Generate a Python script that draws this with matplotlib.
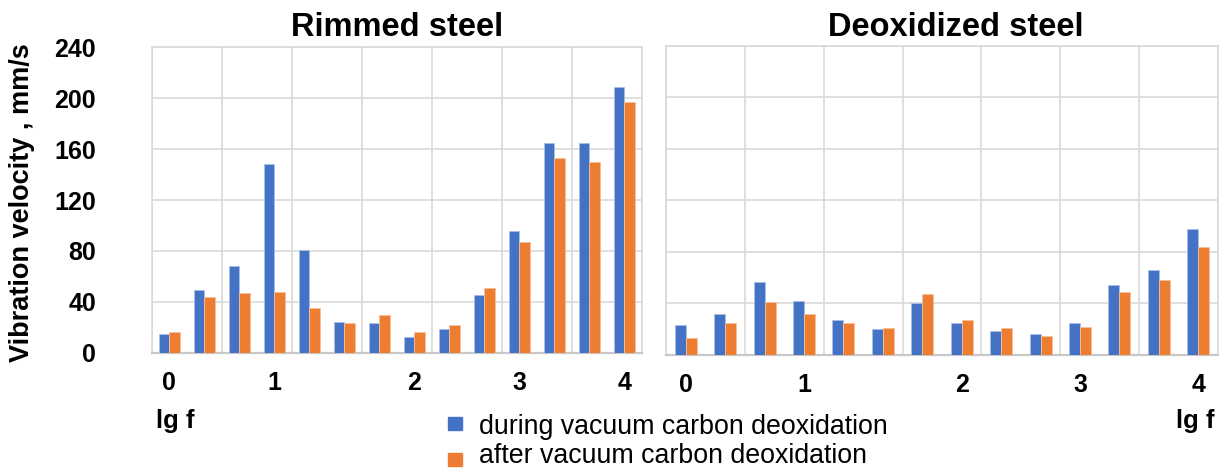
import numpy as np
import matplotlib
matplotlib.use('Agg')
import matplotlib.pyplot as plt
from matplotlib.patches import Rectangle

plt.rcParams['font.family'] = ['Liberation Sans', 'DejaVu Sans']

# values (mm/s), 14 frequency bands per panel
rimmed_during = [15, 49, 68, 148, 81, 24, 23, 12, 19, 45, 96, 165, 165, 209]
rimmed_after = [16, 44, 47, 48, 35, 23, 30, 16, 22, 51, 87, 153, 150, 197]
deox_during = [23, 32, 57, 42, 27, 20, 40, 25, 19, 16, 25, 54, 66, 98]
deox_after = [13, 25, 41, 32, 25, 21, 47, 27, 21, 15, 22, 49, 58, 84]

lg_tick_pos = [0, 3, 7, 10, 13]
lg_tick_labels = ['0', '1', '2', '3', '4']
y_ticks = [0, 40, 80, 120, 160, 200, 240]
titles = ['Rimmed steel', 'Deoxidized steel']
legend_labels = ['during vacuum carbon deoxidation', 'after vacuum carbon deoxidation']

BLUE = '#4472C4'
ORANGE = '#ED7D31'
GRID = '#D9D9D9'

W, H = 1219, 470
fig = plt.figure(figsize=(W / 100, H / 100), dpi=100)


def px_axes(x0, y0, x1, y1):
    return fig.add_axes([x0 / W, 1 - y1 / H, (x1 - x0) / W, (y1 - y0) / H])


def draw_panel(ax, during, after, bar_w, show_y):
    x = np.arange(len(during))
    ax.bar(x - bar_w / 2, during, bar_w, color=BLUE, edgecolor='#A9BFE6', linewidth=0.6, zorder=3)
    ax.bar(x + bar_w / 2, after, bar_w, color=ORANGE, edgecolor='#F6C09C', linewidth=0.6, zorder=3)
    ax.set_xlim(-0.5, len(during) - 0.5)
    ax.set_ylim(0, 240)
    ax.set_yticks(y_ticks)
    for v in y_ticks:
        ax.axhline(v, color=GRID, lw=1.2, zorder=1)
    for g in np.arange(-0.5, len(during), 2):
        ax.axvline(g, color=GRID, lw=1.2, zorder=1)
    ax.set_xticks(lg_tick_pos)
    ax.set_xticklabels(lg_tick_labels, fontsize=18, fontweight='bold')
    ax.tick_params(axis='x', length=0, pad=13)
    if show_y:
        ax.set_yticklabels([str(v) for v in y_ticks], fontsize=18, fontweight='bold')
        ax.tick_params(axis='y', length=0, pad=40)
    else:
        ax.set_yticklabels([])
        ax.tick_params(axis='y', length=0)
    for s in ax.spines.values():
        s.set_color(GRID)
        s.set_linewidth(1.2)
    ax.spines['bottom'].set_color('#C8C8C8')
    ax.spines['bottom'].set_linewidth(1.6)


ax1 = px_axes(151.7, 47.3, 641.7, 352.7)
draw_panel(ax1, rimmed_during, rimmed_after, 0.3, True)
ax2 = px_axes(666, 45.7, 1218, 355)
draw_panel(ax2, deox_during, deox_after, 0.28, False)

fig.text(397 / W, 1 - 36 / H, titles[0], fontsize=23.5, fontweight='bold', ha='center', va='baseline')
fig.text(956 / W, 1 - 36 / H, titles[1], fontsize=23.5, fontweight='bold', ha='center', va='baseline')

fig.text(22.5 / W, 1 - 203 / H, 'Vibration velocity , mm/s', fontsize=19.5, fontweight='bold',
         rotation=90, ha='center', va='center')

fig.text(156 / W, 1 - 428 / H, 'lg f', fontsize=18.5, fontweight='bold', ha='left', va='baseline')
fig.text(1215 / W, 1 - 428 / H, 'lg f', fontsize=18.5, fontweight='bold', ha='right', va='baseline')

# legend drawn by hand, marker squares + text
for k, (col, lab) in enumerate(zip([BLUE, ORANGE], legend_labels)):
    top = 417 + k * 36
    fig.patches.append(Rectangle((448 / W, 1 - (top + 13) / H), 14 / W, 13 / H,
                                 transform=fig.transFigure, color=col, figure=fig))
    fig.text(479 / W, 1 - (434 + k * 29) / H, lab, fontsize=19.3, ha='left', va='baseline')

plt.savefig('out.png', dpi=100)
